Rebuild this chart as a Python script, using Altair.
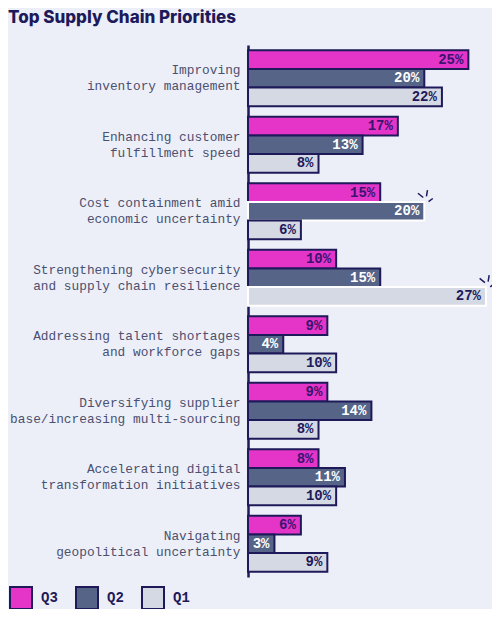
import altair as alt
import pandas as pd

categories = [
    "Improving|inventory management",
    "Enhancing customer|fulfillment speed",
    "Cost containment amid|economic uncertainty",
    "Strengthening cybersecurity|and supply chain resilience",
    "Addressing talent shortages|and workforce gaps",
    "Diversifying supplier|base/increasing multi-sourcing",
    "Accelerating digital|transformation initiatives",
    "Navigating|geopolitical uncertainty",
]
series = ["Q3", "Q2", "Q1"]
q3 = [25, 17, 15, 10, 9, 9, 8, 6]
q2 = [20, 13, 20, 15, 4, 14, 11, 3]
q1 = [22, 8, 6, 27, 10, 8, 10, 9]
# bars highlighted with a white outline and a sparkle
highlights = [("Cost containment amid|economic uncertainty", "Q2"),
              ("Strengthening cybersecurity|and supply chain resilience", "Q1")]

NAVY = "#1e1a5a"
BG = "#edeff8"
MONO = "Liberation Mono"

rows = []
for s, vals in zip(series, [q3, q2, q1]):
    for c, v in zip(categories, vals):
        rows.append({"category": c, "series": s, "value": v,
                     "label": f"{v}%", "hl": (c, s) in highlights})
df = pd.DataFrame(rows)

base = alt.Chart(df).encode(
    y=alt.Y("category:N", sort=categories, title=None,
            scale=alt.Scale(paddingInner=0.16, paddingOuter=0.08),
            axis=alt.Axis(labelExpr="split(datum.label, '|')",
                          labelLineHeight=16, labelFont=MONO, labelFontSize=12.8,
                          labelColor="#4b5070", labelPadding=8, labelLimit=320,
                          labelOffset=-8,
                          ticks=False, domainColor=NAVY, domainWidth=2.5)),
    yOffset=alt.YOffset("series:N", sort=series,
                        scale=alt.Scale(paddingInner=0, paddingOuter=0)),
    x=alt.X("value:Q", axis=None, scale=alt.Scale(domain=[0, 27], nice=False)),
)

bars = base.mark_bar(strokeWidth=2).encode(
    fill=alt.Fill("series:N", sort=series,
                  scale=alt.Scale(domain=series, range=["#e535c8", "#556487", "#d5d9e4"]),
                  legend=alt.Legend(title=None, orient="none", direction="horizontal",
                                    legendX=-239, legendY=541,
                                    symbolType="square", symbolSize=484,
                                    symbolStrokeColor=NAVY, symbolStrokeWidth=2,
                                    symbolOpacity=1,
                                    labelFont=MONO, labelFontWeight="bold",
                                    labelFontSize=14, labelColor=NAVY,
                                    labelOffset=8, columnPadding=14)),
    stroke=alt.condition("datum.hl", alt.value("white"), alt.value(NAVY)),
)

texts = base.mark_text(align="right", dx=-5, baseline="middle", font=MONO,
                       fontWeight="bold", fontSize=14).encode(
    text="label:N",
    color=alt.Color("series:N", sort=series,
                    scale=alt.Scale(domain=series, range=["#3a1470", "white", NAVY]),
                    legend=None),
)

sparkle = base.transform_filter("datum.hl").mark_point(
    shape="M-0.6,-1.7L-0.1,-1.3M0.3,-2.0L0.2,-1.4M0.4,-0.9L0.8,-1.2",
    filled=False, color=NAVY, strokeWidth=1.5, size=450, opacity=1,
)

chart = alt.layer(bars, texts, sparkle).properties(
    width=238, height=532,
    title=alt.TitleParams("Top Supply Chain Priorities", anchor="start", frame="group",
                          dx=-240, offset=18, font="Inter", fontSize=17,
                          fontWeight=800, color=NAVY),
    autosize=alt.AutoSizeParams(type="none"),
    padding={"left": 240, "top": 37, "right": 6, "bottom": 32},
).configure(background=BG).configure_view(stroke=None)

chart.save("out.html", embed_options={"renderer": "svg", "actions": False})
